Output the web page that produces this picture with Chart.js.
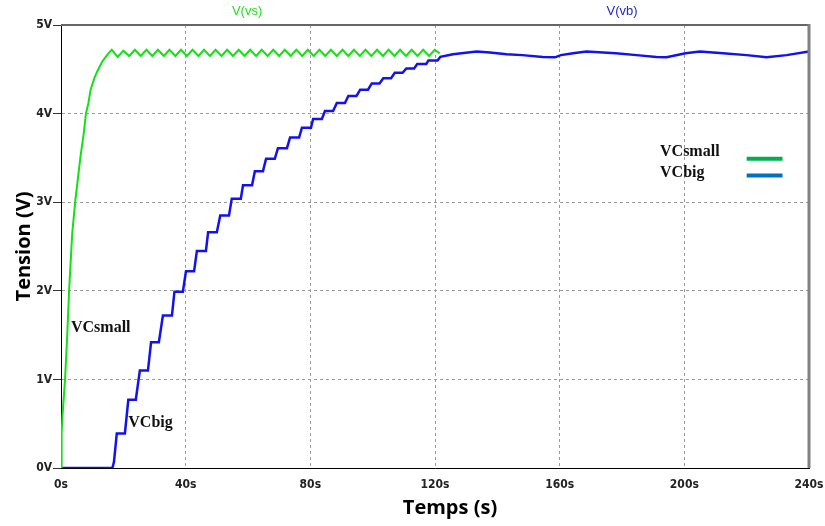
<!DOCTYPE html>
<html>
<head>
<meta charset="utf-8">
<script src="https://cdn.jsdelivr.net/npm/chart.js@4.4.1/dist/chart.umd.min.js"></script>
<style>
  html, body { margin: 0; padding: 0; background: #fff; }
  #wrap { width: 825px; height: 526px; }
</style>
</head>
<body>
<div id="wrap"><canvas id="plot"></canvas></div>
<script>
// V(vs) - small capacitor
const vsTime = [0, 0.2, 0.5, 1.3, 2.0, 2.6, 3.6, 4.6, 6.2, 7.3, 8.0, 8.8, 9.5, 10.7, 11.8, 13.3, 15.2,
  16.3, 18.2, 20.0, 21.9, 23.7, 25.6, 27.4, 29.3, 31.1, 33.0, 34.8, 36.7, 38.5, 40.4, 42.2, 44.1,
  45.9, 47.8, 49.6, 51.5, 53.3, 55.2, 57.0, 58.9, 60.7, 62.6, 64.4, 66.3, 68.1, 70.0, 71.8, 73.7,
  75.5, 77.4, 79.2, 81.1, 82.9, 84.8, 86.6, 88.5, 90.3, 92.2, 94.0, 95.9, 97.7, 99.6, 101.4, 103.3,
  105.1, 107.0, 108.8, 110.7, 112.5, 114.4, 116.2, 118.1, 119.9, 121.5];
const vsVolt = [0, 0.4, 0.6, 1.0, 1.5, 2.0, 2.65, 3.02, 3.5, 3.78, 4.0, 4.12, 4.27, 4.40, 4.49, 4.59, 4.68,
  4.72, 4.64, 4.71, 4.65, 4.72, 4.65, 4.72, 4.65, 4.72, 4.65, 4.72, 4.65, 4.72, 4.65, 4.72, 4.65,
  4.72, 4.65, 4.72, 4.65, 4.72, 4.65, 4.72, 4.65, 4.72, 4.65, 4.72, 4.65, 4.72, 4.65, 4.72, 4.65,
  4.72, 4.65, 4.72, 4.65, 4.72, 4.65, 4.72, 4.65, 4.72, 4.65, 4.72, 4.65, 4.72, 4.65, 4.72, 4.65,
  4.72, 4.65, 4.72, 4.65, 4.72, 4.65, 4.72, 4.65, 4.72, 4.68];

// V(vb) - big capacitor, stair steps then slow wave
const vbTime = [0, 16.5, 17.0, 17.9, 20.5, 21.6, 24.0, 25.3, 27.9, 28.9, 31.4, 32.7, 35.6, 36.4, 39.1,
  40.1, 42.7, 43.6, 46.5, 47.2, 50.0, 51.1, 53.9, 54.8, 57.7, 58.4, 61.3, 62.2, 64.8, 65.8, 68.6,
  69.6, 72.5, 73.5, 76.4, 77.3, 80.2, 80.9, 83.7, 84.7, 87.3, 88.5, 91.1, 92.2, 94.8, 96.0, 98.5,
  99.7, 102.2, 103.4, 105.9, 107.1, 109.6, 110.8, 113.3, 114.3, 117.2, 117.9, 120.8, 121.7, 125.8,
  128.5, 133.4, 137.6, 143, 148, 154.6, 158.5, 160.4, 164.3, 168.6, 178, 184.7, 191, 194.3, 200.4,
  205, 212.4, 220, 226.4, 232.8, 240];
const vbVolt = [0, 0, 0.07, 0.39, 0.39, 0.77, 0.77, 1.10, 1.10, 1.42, 1.42, 1.72, 1.72, 1.99, 1.99,
  2.22, 2.22, 2.45, 2.45, 2.66, 2.66, 2.85, 2.85, 3.04, 3.04, 3.19, 3.19, 3.35, 3.35, 3.49, 3.49,
  3.61, 3.61, 3.73, 3.73, 3.84, 3.84, 3.94, 3.94, 4.03, 4.03, 4.12, 4.12, 4.20, 4.20, 4.27, 4.27,
  4.34, 4.34, 4.40, 4.40, 4.46, 4.46, 4.51, 4.51, 4.56, 4.56, 4.60, 4.60, 4.64, 4.67,
  4.68, 4.70, 4.69, 4.67, 4.66, 4.64, 4.635, 4.66, 4.68, 4.70, 4.68, 4.66, 4.64, 4.635, 4.68,
  4.70, 4.68, 4.66, 4.635, 4.66, 4.70];

const xTicks = [0, 40, 80, 120, 160, 200, 240];
const yTicks = [0, 1, 2, 3, 4, 5];

const tickFont = { family: "'DejaVu Sans Condensed', 'Liberation Sans Narrow', sans-serif", size: 12, weight: 'bold' };
const titleFont = { family: "'Open Sans', sans-serif", size: 20, weight: 'bold' };

// text labels drawn on top of the plot (positions in data units)
const labels = [
  { text: 'V(vs)', x: 59.7, y: 5.11, color: '#22dd22', font: "13px 'Liberation Sans', sans-serif", align: 'center' },
  { text: 'V(vb)', x: 180, y: 5.11, color: '#2424cc', font: "13px 'Liberation Sans', sans-serif", align: 'center' },
  { text: 'VCsmall', x: 3.2, y: 1.53, color: '#111', font: "bold 16px 'Liberation Serif', serif", align: 'left' },
  { text: 'VCbig', x: 21.6, y: 0.46, color: '#111', font: "bold 16px 'Liberation Serif', serif", align: 'left' },
  { text: 'VCsmall', x: 192.2, y: 3.52, color: '#111', font: "bold 16px 'Liberation Serif', serif", align: 'left' },
  { text: 'VCbig', x: 192.2, y: 3.29, color: '#111', font: "bold 16px 'Liberation Serif', serif", align: 'left' }
];
const keyLines = [
  { x1: 220, x2: 231.5, y: 3.49, color: '#00b050' },
  { x1: 220, x2: 231.5, y: 3.30, color: '#0070c0' }
];

const extras = {
  id: 'extras',
  afterDraw(chart) {
    const c = chart.ctx, a = chart.chartArea;
    const xs = chart.scales.x, ys = chart.scales.y;
    c.save();
    // frame: top and right edges like the LTspice window
    c.strokeStyle = '#666';
    c.lineWidth = 2;
    c.beginPath();
    c.moveTo(a.left, a.top);
    c.lineTo(a.right, a.top);
    c.stroke();
    c.strokeStyle = '#808080';
    c.lineWidth = 3;
    c.beginPath();
    c.moveTo(a.right, a.top - 1);
    c.lineTo(a.right, a.bottom);
    c.stroke();

    // x axis title, sits a little right of the plot centre in the original
    c.font = "bold 20px 'Open Sans', sans-serif";
    c.fillStyle = '#000';
    c.textAlign = 'center';
    c.textBaseline = 'middle';
    c.fillText('Temps (s)', (a.left + a.right) / 2 + 15, 508);

    labels.forEach(l => {
      c.font = l.font;
      c.fillStyle = l.color;
      c.textAlign = l.align;
      c.textBaseline = 'alphabetic';
      c.fillText(l.text, xs.getPixelForValue(l.x), ys.getPixelForValue(l.y));
    });
    keyLines.forEach(k => {
      c.strokeStyle = k.color;
      c.lineWidth = 4;
      c.beginPath();
      c.moveTo(xs.getPixelForValue(k.x1), ys.getPixelForValue(k.y));
      c.lineTo(xs.getPixelForValue(k.x2), ys.getPixelForValue(k.y));
      c.stroke();
    });
    c.restore();
  }
};

new Chart(document.getElementById('plot'), {
  type: 'line',
  data: {
    datasets: [
      {
        label: 'V(vs)',
        data: vsTime.map((t, i) => ({ x: t, y: vsVolt[i] })),
        borderColor: '#14e014',
        borderWidth: 2,
        pointRadius: 0,
        tension: 0
      },
      {
        label: 'V(vb)',
        data: vbTime.map((t, i) => ({ x: t, y: vbVolt[i] })),
        borderColor: '#1212f0',
        borderWidth: 2.5,
        pointRadius: 0,
        tension: 0
      }
    ]
  },
  options: {
    responsive: true,
    maintainAspectRatio: false,
    animation: false,
    layout: { padding: { top: 25, right: 16, left: 0, bottom: 0 } },
    plugins: { legend: { display: false }, tooltip: { enabled: false } },
    scales: {
      x: {
        type: 'linear',
        min: 0,
        max: 240,
        afterBuildTicks: s => { s.ticks = xTicks.map(v => ({ value: v })); },
        afterFit: s => { s.height = 58; s.paddingLeft = 0; s.paddingRight = 0; },
        ticks: { callback: v => v + 's', font: tickFont, color: '#222', padding: 10, maxRotation: 0 },
        grid: { color: '#9a9a9a', drawTicks: false },
        border: { color: '#000', width: 1, dash: [3, 3] }
      },
      y: {
        min: 0,
        max: 5,
        afterBuildTicks: s => { s.ticks = yTicks.map(v => ({ value: v })); },
        afterFit: s => { s.width = 61; s.paddingTop = 0; s.paddingBottom = 0; },
        ticks: { callback: v => v + 'V', font: tickFont, color: '#222', padding: 1 },
        grid: { color: '#9a9a9a', tickLength: 8, tickColor: '#333', tickBorderDash: [] },
        border: { color: '#000', width: 1, dash: [3, 3] },
        title: { display: true, text: 'Tension (V)', font: titleFont, color: '#000', padding: { top: 12, bottom: 0 } }
      }
    }
  },
  plugins: [extras]
});
</script>
</body>
</html>
